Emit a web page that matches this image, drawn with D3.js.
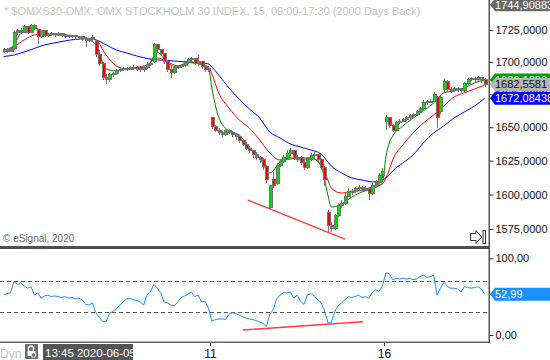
<!DOCTYPE html>
<html><head><meta charset="utf-8">
<script src="https://cdn.jsdelivr.net/npm/d3@7"></script>
<style>
html,body{margin:0;padding:0;background:#fff;}
svg{display:block;font-family:"Liberation Sans",Arial,sans-serif;}
</style></head><body>
<svg id="c" width="550" height="360"></svg>
<script>
// ---------- DATA ----------
const titleText = "* $OMXS30-OMX, OMX STOCKHOLM 30 INDEX, 15, 09:00-17:30 (2000 Days Back)";
const opens = [1708.5,1709.3,1708.5,1710.1,1722.7,1724.2,1723.4,1727.4,1723.4,1728.2,
1725.0,1719.5,1724.2,1720.3,1721.1,1721.9,1721.1,1721.9,1720.3,1720.3,
1719.5,1720.3,1719.5,1719.5,1718.0,1716.4,1717.2,1715.6,1705.4,1698.5,
1687.6,1686.1,1689.9,1690.7,1693.0,1693.8,1694.6,1694.2,1695.4,1695.0,
1694.6,1693.8,1695.4,1697.7,1700.0,1713.3,1709.3,1706.2,1700.0,1693.8,
1691.5,1695.4,1696.1,1696.9,1699.2,1701.6,1702.3,1698.5,1700.0,1696.1,
1693.8,1657.0,1650.2,1647.9,1645.7,1644.2,1647.9,1646.4,1644.2,1642.7,
1639.7,1637.4,1634.4,1632.2,1629.2,1627.7,1625.5,1620.3,1590.9,1610.7,
1607.8,1621.1,1624.0,1627.0,1630.0,1632.2,1627.7,1627.0,1623.3,1619.6,
1625.5,1628.5,1629.2,1625.5,1619.6,1586.6,1577.2,1575.7,1584.4,1591.7,
1593.8,1598.9,1602.6,1601.9,1604.1,1604.8,1603.3,1604.1,1601.1,1607.0,
1608.5,1613.7,1654.0,1657.0,1651.0,1647.9,1653.2,1654.7,1655.5,1657.0,
1658.5,1659.3,1661.6,1663.9,1668.4,1669.2,1669.9,1672.2,1661.6,1678.4,
1684.5,1678.4,1677.6,1679.1,1678.4,1677.6,1683.0,1686.1,1686.8,1686.1,
1687.6,1686.1];
const highs = [1710.9,1710.9,1711.7,1724.2,1725.8,1726.6,1729.0,1728.2,1729.8,1729.8,
1725.8,1725.0,1725.0,1722.7,1723.4,1722.7,1723.4,1722.7,1721.9,1721.1,
1721.1,1721.1,1720.3,1720.3,1719.5,1718.8,1721.1,1717.2,1709.3,1700.0,
1690.7,1691.5,1692.3,1694.6,1695.4,1696.1,1696.1,1696.9,1697.7,1696.9,
1696.1,1696.9,1700.0,1700.0,1714.9,1714.1,1710.1,1707.0,1701.6,1696.9,
1696.9,1697.7,1698.5,1700.8,1703.1,1703.9,1703.1,1705.4,1700.8,1697.7,
1696.9,1657.8,1651.7,1649.4,1647.2,1648.7,1648.7,1647.2,1644.9,1643.4,
1641.2,1638.9,1635.9,1632.9,1631.4,1628.5,1627.0,1621.8,1607.0,1616.6,
1623.3,1626.2,1629.2,1632.9,1634.4,1632.9,1629.2,1628.5,1625.5,1627.7,
1630.7,1631.4,1630.0,1627.0,1621.1,1588.7,1580.1,1585.8,1593.8,1596.0,
1601.1,1604.8,1604.1,1605.6,1607.0,1606.3,1606.3,1605.6,1608.5,1610.7,
1615.9,1619.6,1659.3,1657.8,1652.5,1654.7,1656.3,1657.0,1658.5,1660.1,
1660.8,1663.1,1665.4,1670.7,1670.7,1671.5,1676.8,1673.8,1673.8,1686.8,
1686.1,1680.7,1680.7,1680.7,1679.9,1684.5,1687.6,1688.4,1688.4,1689.2,
1688.4,1687.6];
const lows = [1707.0,1707.0,1707.7,1709.3,1721.1,1721.9,1722.7,1721.9,1722.7,1725.0,
1714.1,1718.8,1719.5,1719.5,1720.3,1719.5,1720.3,1719.5,1718.8,1718.8,
1718.8,1718.0,1718.0,1716.4,1711.7,1715.6,1716.4,1703.9,1696.9,1686.1,
1683.0,1684.5,1688.4,1689.9,1692.3,1693.0,1693.0,1693.8,1693.8,1693.0,
1692.3,1692.3,1694.6,1696.9,1699.2,1707.7,1704.6,1698.5,1692.3,1687.6,
1690.7,1694.6,1695.4,1696.1,1698.5,1700.0,1697.7,1696.9,1694.6,1692.3,
1692.3,1648.7,1646.4,1644.2,1642.7,1643.4,1644.9,1642.7,1640.4,1638.2,
1635.9,1632.9,1630.7,1627.0,1625.5,1623.3,1618.1,1608.5,1589.5,1604.8,
1607.0,1620.3,1623.3,1625.5,1628.5,1625.5,1624.0,1621.8,1618.1,1618.8,
1624.8,1627.0,1623.3,1618.1,1606.3,1572.1,1572.9,1574.3,1583.7,1590.2,
1592.4,1598.2,1599.7,1601.1,1602.6,1601.9,1602.6,1596.0,1599.7,1605.6,
1607.8,1612.2,1647.9,1649.4,1646.4,1647.2,1652.5,1654.0,1654.7,1656.3,
1657.8,1658.5,1660.8,1663.1,1666.9,1668.4,1669.2,1649.4,1660.1,1676.1,
1676.8,1676.1,1676.8,1676.8,1676.1,1676.8,1682.2,1685.3,1684.5,1685.3,
1683.8,1680.7];
const closes = [1709.3,1708.5,1710.1,1722.7,1724.2,1723.4,1727.4,1723.4,1728.2,1726.6,
1719.5,1724.2,1720.3,1721.1,1721.9,1721.1,1721.9,1720.3,1720.3,1719.5,
1720.3,1719.5,1719.0,1718.0,1716.4,1717.2,1718.8,1705.4,1698.5,1687.6,
1686.1,1689.9,1690.7,1693.0,1693.8,1694.6,1694.2,1695.4,1695.0,1694.6,
1693.8,1695.4,1697.7,1698.5,1713.3,1709.3,1706.2,1700.0,1693.8,1691.5,
1695.4,1696.1,1696.9,1699.2,1701.6,1702.3,1698.5,1700.0,1696.1,1693.8,
1694.6,1650.2,1647.9,1645.7,1644.2,1647.9,1646.4,1644.2,1642.7,1639.7,
1637.4,1634.4,1632.2,1629.2,1627.7,1625.5,1620.3,1610.7,1606.3,1607.0,
1621.1,1624.0,1627.0,1630.0,1632.2,1627.7,1627.0,1623.3,1619.6,1625.5,
1628.5,1629.2,1625.5,1619.6,1610.7,1577.2,1575.7,1584.4,1591.7,1593.8,
1598.9,1602.6,1601.9,1604.1,1604.8,1603.3,1604.1,1601.1,1607.0,1608.5,
1613.7,1616.6,1657.0,1651.0,1647.9,1653.2,1654.7,1655.5,1657.0,1658.5,
1659.3,1661.6,1663.9,1668.4,1669.2,1669.9,1674.5,1657.0,1672.2,1684.5,
1678.4,1677.6,1679.1,1678.4,1677.6,1683.0,1686.1,1686.8,1686.1,1687.6,
1686.1,1682.5581];

// moving averages sampled at bar indices
const maIdx = [0,3,6,9,12,15,18,21,24,27,30,33,36,39,42,45,48,51,54,57,60,61,63,66,69,72,75,78,81,84,87,90,93,95,96,99,102,105,108,111,112,113,114,117,120,123,126,129,132,135,138,141];
const maFast = [1708.5,1713.3,1725.8,1726.6,1722.7,1721.1,1721.1,1720.3,1718.4,1713.3,1694.6,1693.0,1694.6,1695.4,1696.1,1707.7,1699.2,1696.1,1699.6,1698.5,1695.4,1679.9,1657.8,1647.2,1644.2,1635.2,1627.0,1615.9,1624.0,1627.0,1625.5,1627.0,1621.1,1599.7,1590.9,1593.1,1598.2,1601.9,1604.1,1609.3,1627.7,1638.2,1643.4,1651.0,1657.0,1662.4,1668.4,1676.1,1677.6,1679.9,1683.8,1686.1];
const maMid = [1707.7,1711.7,1717.2,1721.1,1721.9,1721.5,1720.7,1719.9,1718.8,1717.2,1705.4,1696.9,1694.6,1695.8,1697.7,1703.1,1700.0,1696.9,1699.6,1698.8,1696.1,1690.7,1676.1,1664.6,1655.5,1649.4,1640.4,1630.7,1625.5,1626.2,1627.0,1627.0,1622.5,1610.7,1604.8,1601.1,1602.6,1603.3,1605.6,1607.8,1612.2,1618.1,1625.5,1636.7,1645.7,1653.2,1659.3,1666.1,1673.0,1676.1,1679.1,1682.2];
const maSlow = [1704.2,1705.4,1707.7,1710.5,1713.3,1714.9,1716.4,1717.6,1718.0,1717.2,1713.3,1709.3,1707.0,1704.6,1702.7,1701.6,1701.2,1700.4,1700.0,1699.6,1698.5,1696.1,1689.9,1679.9,1671.5,1663.9,1657.0,1646.4,1641.9,1637.4,1635.2,1632.9,1630.0,1624.0,1621.1,1615.9,1612.2,1610.7,1609.3,1610.7,1612.2,1614.4,1617.4,1623.3,1629.2,1638.2,1645.7,1651.0,1657.0,1661.6,1666.1,1672.08438];

const rsi = [52,54,55,70,66,68,64,61,63,52,55,48,51,52,50,51,50,49,50,48,
49,47,48,46,40,39,42,29,23,18,17,28,31,34,39,43,47,48,46,45,
43,39,52,56,66,61,55,43,42,39,38,43,49,51,53,56,50,52,43,44,
35,18,20,21,21,20,27,29,28,26,24,22,21,20,19,17,15,11,27,33,
47,52,55,55,56,48,52,44,40,52,54,51,46,42,32,16,16,30,38,42,
46,50,49,50,52,49,50,48,55,59,57,64,81,80,72,74,73,74,73,74,
72,73,76,78,75,76,78,52,61,69,63,61,61,60,56,63,62,61,62,63,
60,52.99];

const priceTicks = [1575,1600,1625,1650,1675,1700,1725];
const rsiTicks = [0,100];
const rsiLevels = [30,70];
const dayLabels = ["11","16"];
const dayStartIdx = [61,112];
const highTagValue = 1744.90883;
const priceTrendPos = [72.1,100.5], priceTrendVal = [1596.0,1567.8];
const rsiTrendPos = [70.6,105.8], rsiTrendVal = [6.5,17.3];
const cursorLabel = "13:45 2020-06-05";

// ---------- LAYOUT ----------
const W = 550, H = 360, plotR = 489;
const mainTop = 0, mainBot = 246, rsiBot = 342;
const N = closes.length;
const svg = d3.select('#c');
const loc = d3.formatLocale({decimal:",", thousands:".", grouping:[3], currency:["",""]});
const f4 = loc.format(".4f"), f5 = loc.format(".5f"), f2 = loc.format(".2f");

const x = d3.scaleLinear().domain([0, N]).range([2, 2 + N * 3.412]);
const y = d3.scaleLog().domain([1562.1, 1748.8]).range([247, 0]);
const yr = d3.scaleLinear().domain([0, 100]).range([335, 258.3]);

svg.append('defs').append('clipPath').attr('id','mc')
  .append('rect').attr('x',0).attr('y',mainTop).attr('width',plotR).attr('height',mainBot);

// title
svg.append('text').attr('x',4).attr('y',15).attr('font-size',11).attr('fill','#c4c4c4').text(titleText);

const gm = svg.append('g').attr('clip-path','url(#mc)');

// moving averages
const maLine = d3.line().x((d,k)=>x(maIdx[k]+0.5)).y(d=>y(d)).curve(d3.curveMonotoneX);
[[maSlow,'#0000ff'],[maMid,'#ff0000'],[maFast,'#008000']].forEach(([arr,col])=>{
  gm.append('path').attr('d',maLine(arr)).attr('fill','none').attr('stroke',col).attr('stroke-width',1);
});

// candles
const cg = gm.append('g').attr('shape-rendering','crispEdges');
const idx = d3.range(N);
const cx = i => Math.round(x(i+0.5));
cg.selectAll('line.w').data(idx).join('line').attr('class','w')
  .attr('x1',i=>cx(i)+0.5).attr('x2',i=>cx(i)+0.5)
  .attr('y1',i=>y(highs[i])).attr('y2',i=>y(lows[i]))
  .attr('stroke','#737373').attr('stroke-width',1);
cg.selectAll('rect.b').data(idx).join('rect').attr('class','b')
  .attr('x',i=>cx(i)-1).attr('width',3)
  .attr('y',i=>y(Math.max(opens[i],closes[i])))
  .attr('height',i=>Math.max(1, Math.abs(y(opens[i])-y(closes[i]))))
  .attr('fill',i=>{ const h=Math.abs(y(opens[i])-y(closes[i])); if(h<2.5) return '#737373'; return closes[i]>=opens[i]?'#00e000':'#ff0000'; })
  .attr('stroke','#737373').attr('stroke-width',1);

// divergence line on price
gm.append('line').attr('x1',x(priceTrendPos[0])).attr('y1',y(priceTrendVal[0]))
  .attr('x2',x(priceTrendPos[1])).attr('y2',y(priceTrendVal[1]))
  .attr('stroke','#ff3b3b').attr('stroke-width',1.3);

// copyright
svg.append('text').attr('x',3).attr('y',242).attr('font-size',10).attr('fill','#666').text('\u00A9 eSignal, 2020');

// small arrow icon
svg.append('path').attr('d','M470.5,233.5 H476 V230.5 L481.5,237 L476,243.5 V240.5 H470.5 Z')
  .attr('fill','#f4f4f4').attr('stroke','#333').attr('stroke-width',1);
svg.append('rect').attr('x',483).attr('y',230.5).attr('width',2.5).attr('height',13)
  .attr('fill','#f4f4f4').attr('stroke','#333').attr('stroke-width',1);

// separator
svg.append('rect').attr('x',0).attr('y',246).attr('width',plotR+1).attr('height',3).attr('fill','#505050');

// RSI panel
const gr = svg.append('g');
rsiLevels.forEach(v=>{
  gr.append('line').attr('x1',0).attr('x2',plotR).attr('y1',Math.round(yr(v))+0.5).attr('y2',Math.round(yr(v))+0.5)
    .attr('stroke','#555').attr('stroke-dasharray','4,3').attr('stroke-width',1);
});
const rsiLine = d3.line().x((d,i)=>x(i+0.5)).y(d=>yr(d));
gr.append('path').attr('d',rsiLine(rsi)).attr('fill','none').attr('stroke','#1a8fff').attr('stroke-width',1);
gr.append('line').attr('x1',x(rsiTrendPos[0])).attr('y1',yr(rsiTrendVal[0]))
  .attr('x2',x(rsiTrendPos[1])).attr('y2',yr(rsiTrendVal[1]))
  .attr('stroke','#ff3b3b').attr('stroke-width',1.3);

// bottom border of rsi panel
svg.append('rect').attr('x',0).attr('y',341.5).attr('width',plotR+1).attr('height',1.5).attr('fill','#666');
// right axis line
svg.append('rect').attr('x',488.5).attr('y',0).attr('width',1.5).attr('height',343).attr('fill','#555');

// right axes
const ax = svg.append('g').attr('transform',`translate(${plotR+0.5},0)`)
  .call(d3.axisRight(y).tickValues(priceTicks).tickSize(4).tickPadding(2).tickFormat(f4));
const axr = svg.append('g').attr('transform',`translate(${plotR+0.5},0)`)
  .call(d3.axisRight(yr).tickValues(rsiTicks).tickSize(4).tickPadding(2).tickFormat(f2));
[ax,axr].forEach(a=>{
  a.select('.domain').remove();
  a.selectAll('line').attr('stroke','#333');
  a.selectAll('text').attr('font-size',11).attr('fill','#111').attr('font-family','"Liberation Sans",Arial,sans-serif');
});

// value tags
function tag(cy, txt, bg, fg){
  const h = 13, g = svg.append('g');
  g.append('path').attr('d',`M${plotR+1},${cy} L${plotR+6},${cy-h/2} H${W} V${cy+h/2} H${plotR+6} Z`).attr('fill',bg);
  g.append('text').attr('x',plotR+6).attr('y',cy).attr('dy','0.36em').attr('font-size',11).attr('fill',fg).text(txt);
}
tag(y(highTagValue), f5(highTagValue), '#6a6a6a', '#fff');
tag(y(maFast[maFast.length-1]), f4(maFast[maFast.length-1]), '#00a000', '#fff');
tag(y(closes[N-1]), f4(closes[N-1]), '#b4b4b4', '#111');
tag(y(maSlow[maSlow.length-1]), f5(maSlow[maSlow.length-1]), '#0000ff', '#fff');
tag(yr(rsi[N-1]), f2(rsi[N-1]), '#1a8fff', '#fff');

// time axis
dayStartIdx.forEach((d,k)=>{
  const px = Math.round(x(d))+0.5;
  svg.append('line').attr('x1',px).attr('x2',px).attr('y1',343).attr('y2',346).attr('stroke','#333');
  svg.append('text').attr('x',px).attr('y',358).attr('text-anchor','middle').attr('font-size',12).attr('fill','#200020').text(dayLabels[k]);
});

// bottom-left widgets
svg.append('text').attr('x',0).attr('y',358).attr('font-size',12).attr('fill','#c4c4c4').text('Dyn');
svg.append('rect').attr('x',25).attr('y',344).attr('width',13).attr('height',15).attr('rx',1).attr('fill','#6a6a6a');
svg.append('path').attr('d','M28.5,351 V348.5 A2.5,2.5 0 0 1 33.5,348.5 V351').attr('fill','none').attr('stroke','#fff').attr('stroke-width',1.3);
svg.append('rect').attr('x',27.5).attr('y',351).attr('width',8).attr('height',5).attr('fill','#fff');
svg.append('circle').attr('cx',33.5).attr('cy',355).attr('r',2.3).attr('fill','#6a6a6a').attr('stroke','#fff').attr('stroke-width',1);
svg.append('rect').attr('x',43).attr('y',344).attr('width',90).attr('height',16).attr('fill','#555');
svg.append('text').attr('x',45).attr('y',357).attr('font-size',11.5).attr('fill','#fff').text(cursorLabel);
</script>
</body></html>
